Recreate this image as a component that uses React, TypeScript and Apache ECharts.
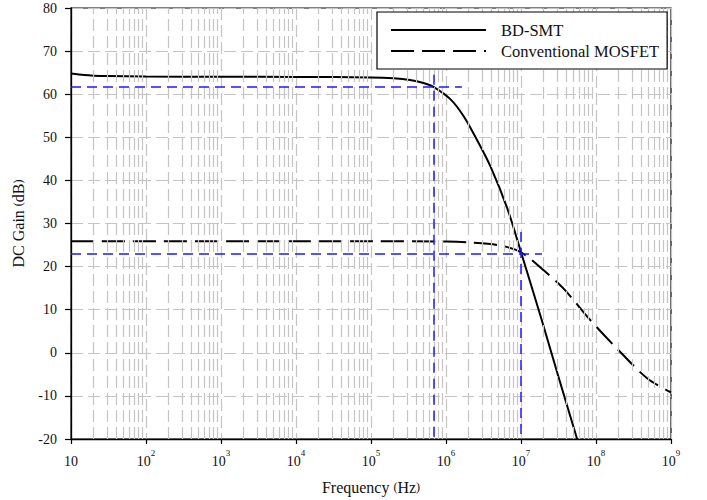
import React, { useEffect, useRef } from "react";
import * as echarts from "echarts";

// Frequency (Hz) and gain (dB) readings
const bdFreq = [10, 15, 20, 30, 100, 1e3, 1e4, 1e5, 2e5, 3.3e5, 5e5, 6.8e5, 1.15e6, 1.72e6, 2.57e6, 3.9e6, 6.6e6, 1e7, 1.86e7, 3.2e7, 5.6e7];
const bdGain = [64.8, 64.45, 64.3, 64.2, 64.1, 64.05, 64.0, 63.9, 63.7, 63.3, 62.6, 61.7, 58.8, 54.9, 49.5, 43.3, 33.4, 23.35, 8.0, -5.9, -20];

const convFreq = [10, 1e4, 1e5, 1e6, 2.1e6, 5.3e6, 1e7, 1.9e7, 3.7e7, 8e7, 1.9e8, 4.8e8, 1e9];
const convGain = [25.9, 25.9, 25.9, 25.8, 25.6, 24.9, 23.3, 19.5, 14.9, 8.0, 1.0, -5.9, -9.2];

// Blue reference guides: [x1, y1, x2, y2]
const guides = [
  [10, 61.7, 1.63e6, 61.7],
  [6.84e5, 64.5, 6.84e5, -20],
  [10, 23.0, 1.9e7, 23.0],
  [1e7, 28, 1e7, -20],
];

const decades = [10, 100, 1e3, 1e4, 1e5, 1e6, 1e7, 1e8];
const minorMultipliers = [2, 3, 4, 5, 6, 7, 8, 9];

const FONT = "'Liberation Serif', 'Times New Roman', serif";
const GRID_COLOR = "#c4c4c4";

export default function App() {
  const ref = useRef<HTMLDivElement>(null);
  useEffect(() => {
    if (!ref.current) return;
    const chart = echarts.init(ref.current, undefined, { renderer: "svg" });
    const minorLines: any[] = [];
    decades.forEach((d) => minorMultipliers.forEach((m) => minorLines.push({ xAxis: d * m })));
    chart.setOption({
      animation: false,
      backgroundColor: "#fff",
      textStyle: { fontFamily: FONT },
      grid: {
        left: 71,
        right: 36,
        top: 8,
        bottom: 60,
        show: true,
        borderColor: "#000",
        borderWidth: 1.2,
        backgroundColor: "transparent",
      },
      legend: {
        data: ["BD-SMT", "Conventional MOSFET"],
        orient: "vertical",
        left: 377,
        top: 12,
        padding: [9, 8, 9, 13],
        itemGap: 3,
        itemWidth: 95,
        itemHeight: 14,
        borderColor: "#000",
        borderWidth: 1.2,
        borderRadius: 0,
        backgroundColor: "#fff",
        z: 10,
        itemStyle: { opacity: 0 },
        textStyle: {
          fontFamily: FONT,
          fontSize: 16.5,
          color: "#111",
          lineHeight: 18,
          padding: [0, 0, 0, 10],
        },
      },
      xAxis: {
        type: "log",
        logBase: 10,
        min: 10,
        max: 1e9,
        splitNumber: 8,
        name: "Frequency {p|(}Hz{p|)}",
        nameLocation: "middle",
        nameGap: 40,
        nameTextStyle: {
          fontFamily: FONT,
          fontSize: 16,
          color: "#111",
          rich: { p: { fontFamily: FONT, fontSize: 12, color: "#111" } },
        },
        axisLine: { show: true, onZero: false, lineStyle: { color: "#000", width: 1.3 } },
        axisTick: { show: true, length: 5, lineStyle: { color: "#000", width: 1.2 } },
        splitLine: { show: true, lineStyle: { color: GRID_COLOR, type: [12, 5], width: 1.2 } },
        axisLabel: {
          margin: 9,
          color: "#111",
          fontFamily: FONT,
          formatter: (v: number) => {
            const e = Math.round(Math.log10(v));
            return e === 1 ? "{b|10}" : "{b|10}{s|" + e + "}";
          },
          rich: {
            b: { fontFamily: FONT, fontSize: 14, color: "#111", lineHeight: 20, verticalAlign: "bottom" },
            s: { fontFamily: FONT, fontSize: 9, color: "#111", lineHeight: 11, verticalAlign: "top" },
          },
        },
      },
      yAxis: {
        type: "value",
        min: -20,
        max: 80,
        interval: 10,
        name: "DC Gain {p|(}dB{p|)}",
        nameLocation: "middle",
        nameGap: 45,
        nameTextStyle: {
          fontFamily: FONT,
          fontSize: 16,
          color: "#111",
          rich: { p: { fontFamily: FONT, fontSize: 12, color: "#111" } },
        },
        axisLine: { show: true, lineStyle: { color: "#000", width: 1.3 } },
        axisTick: { show: true, length: 6, lineStyle: { color: "#000", width: 1.2 } },
        splitLine: { show: true, lineStyle: { color: GRID_COLOR, type: [12, 5], width: 1.2 } },
        axisLabel: { margin: 14, color: "#111", fontFamily: FONT, fontSize: 14 },
      },
      series: [
        {
          name: "grid-minor",
          type: "line",
          data: [],
          z: 1,
          silent: true,
          markLine: {
            silent: true,
            symbol: ["none", "none"],
            label: { show: false },
            lineStyle: { color: GRID_COLOR, type: [12, 5], width: 1.2 },
            data: minorLines,
          },
        },
        {
          name: "guides",
          type: "line",
          data: [],
          z: 3,
          silent: true,
          markLine: {
            silent: true,
            symbol: ["none", "none"],
            label: { show: false },
            lineStyle: { color: "#1a1aff", type: [10, 6], width: 1.5 },
            data: guides.map((g) => [{ coord: [g[0], g[1]] }, { coord: [g[2], g[3]] }]),
          },
        },
        {
          name: "BD-SMT",
          type: "line",
          symbol: "none",
          smooth: 0.3,
          z: 4,
          lineStyle: { color: "#000", width: 2 },
          itemStyle: { color: "#000" },
          data: bdFreq.map((f, i) => [f, bdGain[i]]),
        },
        {
          name: "Conventional MOSFET",
          type: "line",
          symbol: "none",
          smooth: 0.3,
          z: 4,
          lineStyle: { color: "#000", width: 2, type: [23, 8] },
          itemStyle: { color: "#000" },
          data: convFreq.map((f, i) => [f, convGain[i]]),
        },
      ],
    });
    return () => chart.dispose();
  }, []);
  return (
    <div
      ref={ref}
      style={{ position: "fixed", left: 0, top: 0, width: 707, height: 500 }}
    />
  );
}
